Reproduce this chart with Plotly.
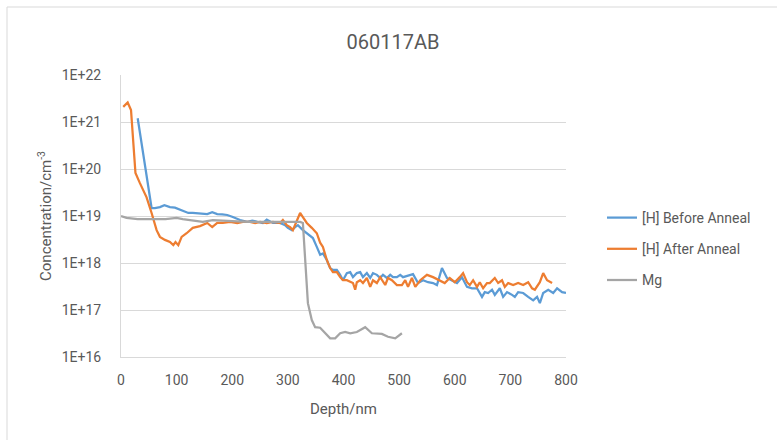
import plotly.graph_objects as go

# SIMS depth profiles of sample 060117AB
depth_before = [30, 55, 61, 70, 78, 88, 97, 109, 121, 129,
                142, 155, 164, 173, 182, 191, 201, 214, 227, 236,
                245, 255, 262, 273, 286, 295, 300, 307, 313, 318,
                327, 334, 345, 352, 358, 363, 370, 376, 381, 388,
                394, 399, 406, 412, 417, 424, 430, 435, 442, 448,
                453, 460, 466, 471, 478, 484, 489, 496, 502, 507,
                514, 520, 525, 534, 543, 552, 561, 568, 577, 586,
                595, 604, 613, 622, 631, 640, 649, 654, 660, 667,
                672, 681, 687, 694, 703, 708, 714, 723, 732, 741,
                748, 753, 759, 768, 777, 784, 793, 800]
h_before = [1.2e21, 1.48e19, 1.48e19, 1.55e19, 1.7e19, 1.55e19, 1.5e19, 1.34e19, 1.16e19, 1.16e19,
            1.12e19, 1.1e19, 1.2e19, 1.1e19, 1.08e19, 1.05e19, 9.5e18, 8.2e18, 7.5e18, 8.0e18,
            7.5e18, 7.1e18, 8.4e18, 7.1e18, 7.1e18, 6.4e18, 5.6e18, 5.0e18, 5.8e18, 6.4e18,
            5.0e18, 4.3e18, 3.4e18, 2.2e18, 1.5e18, 1.6e18, 1.16e18, 7.8e17, 7.1e17, 7.1e17,
            5.6e17, 4.3e17, 6.1e17, 6.4e17, 5.0e17, 6.1e17, 6.4e17, 5.0e17, 6.1e17, 4.8e17,
            6.1e17, 5.6e17, 4.8e17, 5.6e17, 4.8e17, 5.6e17, 5.0e17, 5.0e17, 5.6e17, 5.0e17,
            5.3e17, 5.6e17, 5.8e17, 3.75e17, 4.3e17, 3.9e17, 3.75e17, 3.4e17, 7.8e17, 4.8e17,
            4.3e17, 3.75e17, 5.0e17, 3.1e17, 2.9e17, 2.9e17, 1.9e17, 2.4e17, 2.3e17, 2.7e17,
            2.1e17, 2.9e17, 1.9e17, 2.4e17, 2.1e17, 1.9e17, 2.4e17, 2.3e17, 1.9e17, 1.6e17,
            1.9e17, 1.4e17, 2.3e17, 2.7e17, 2.3e17, 2.9e17, 2.4e17, 2.3e17]

depth_after = [4, 12, 18, 22, 26, 34, 46, 55, 64, 70,
               79, 88, 94, 98, 103, 109, 118, 129, 142, 155,
               164, 173, 183, 196, 209, 219, 232, 241, 250, 262,
               273, 286, 291, 298, 304, 309, 316, 322, 327, 334,
               343, 352, 358, 363, 370, 376, 381, 388, 394, 399,
               406, 412, 417, 421, 424, 430, 435, 442, 448, 453,
               460, 466, 475, 480, 487, 496, 505, 511, 516, 523,
               529, 538, 544, 550, 561, 573, 582, 591, 600, 609,
               615, 622, 627, 633, 640, 645, 651, 658, 663, 672,
               678, 685, 690, 696, 705, 714, 723, 732, 739, 744,
               753, 759, 766, 775]
h_after = [2.1e21, 2.6e21, 1.8e21, 4.1e20, 8.2e19, 5.0e19, 2.5e19, 1.16e19, 5.0e18, 3.6e18,
           3.1e18, 2.8e18, 2.4e18, 2.8e18, 2.4e18, 3.6e18, 4.3e18, 5.6e18, 6.1e18, 7.1e18,
           5.8e18, 7.1e18, 7.1e18, 7.5e18, 7.1e18, 7.5e18, 7.5e18, 7.1e18, 7.5e18, 7.1e18,
           7.5e18, 7.1e18, 8.2e18, 6.4e18, 5.8e18, 5.0e18, 8.2e18, 1.16e19, 9.5e18, 7.1e18,
           5.6e18, 4.3e18, 2.7e18, 2.2e18, 1.16e18, 7.8e17, 6.4e17, 6.4e17, 5.0e17, 4.3e17,
           4.3e17, 3.9e17, 3.75e17, 2.7e17, 3.9e17, 4.3e17, 3.75e17, 4.8e17, 3.1e17, 4.3e17,
           3.75e17, 5.0e17, 3.4e17, 4.8e17, 4.3e17, 3.4e17, 3.4e17, 4.3e17, 3.1e17, 4.8e17,
           3.1e17, 4.3e17, 5.0e17, 5.6e17, 5.0e17, 4.3e17, 3.75e17, 4.8e17, 3.9e17, 5.0e17,
           6.1e17, 3.9e17, 3.4e17, 4.3e17, 3.1e17, 3.9e17, 2.9e17, 3.75e17, 3.75e17, 4.8e17,
           3.75e17, 4.3e17, 3.1e17, 3.75e17, 3.4e17, 3.75e17, 3.4e17, 3.9e17, 2.9e17, 2.7e17,
           3.9e17, 6.1e17, 4.3e17, 3.75e17]

depth_mg = [0, 10, 30, 50, 80, 100, 111, 147, 165, 227,
            309, 322, 327, 331, 336, 343, 349, 358, 367, 376,
            385, 394, 403, 412, 424, 439, 451, 469, 480, 493, 505]
mg = [1.0e19, 9.1e18, 8.6e18, 8.6e18, 8.6e18, 9.1e18, 8.6e18, 7.5e18, 8.2e18, 7.5e18,
      7.5e18, 7.5e18, 7.1e18, 1.34e18, 1.4e17, 6.1e16, 4.3e16, 4.2e16, 3.2e16, 2.5e16,
      2.5e16, 3.2e16, 3.4e16, 3.2e16, 3.4e16, 4.3e16, 3.2e16, 3.1e16, 2.7e16, 2.5e16, 3.2e16]

y_tickvals = [1e16, 1e17, 1e18, 1e19, 1e20, 1e21, 1e22]
y_ticktext = ["1E+16", "1E+17", "1E+18", "1E+19", "1E+20", "1E+21", "1E+22"]
x_tickvals = [0, 100, 200, 300, 400, 500, 600, 700, 800]

FONT = "Roboto, sans-serif"
TXT = "#595959"
GRID = "#d9d9d9"

fig = go.Figure()
series = [
    ("[H] Before Anneal", depth_before, h_before, "#5B9BD5"),
    ("[H] After Anneal", depth_after, h_after, "#ED7D31"),
    ("Mg", depth_mg, mg, "#A5A5A5"),
]
for i, (name, x, y, c) in enumerate(series):
    fig.add_trace(go.Scatter(x=x, y=y, name=name, mode="lines",
                             line=dict(color=c, width=2.25),
                             legendgroup=f"g{i}"))

fig.update_layout(
    width=777, height=440,
    margin=dict(l=121, r=211, t=75, b=83),
    paper_bgcolor="white", plot_bgcolor="white",
    font=dict(family=FONT, color=TXT, size=14),
    title=dict(text="060117AB", x=393 / 777, xanchor="center",
               y=1 - 42 / 440, yanchor="middle",
               font=dict(size=20, color=TXT, family=FONT)),
    xaxis=dict(range=[0, 800], tickvals=x_tickvals, showgrid=False,
               showline=True, linecolor=GRID, linewidth=1, ticks="",
               zeroline=False, tickfont=dict(size=14), ticklabelstandoff=10,
               title=dict(text="Depth/nm", font=dict(size=15), standoff=16)),
    yaxis=dict(type="log", range=[16, 22], tickvals=y_tickvals, ticktext=y_ticktext,
               showgrid=True, gridcolor=GRID, gridwidth=1,
               showline=True, linecolor=GRID, linewidth=1, ticks="",
               zeroline=False, tickfont=dict(size=14), ticklabelstandoff=16,
               title=dict(text="Concentration/cm<sup>-3</sup>", font=dict(size=15), standoff=6)),
    legend=dict(xref="container", yref="container", x=602 / 777, y=1 - 202 / 440,
                xanchor="left", yanchor="top", traceorder="grouped",
                tracegroupgap=10, font=dict(size=14, color=TXT),
                bgcolor="rgba(0,0,0,0)", itemwidth=30),
    showlegend=True,
)

# chart frame edges along the top and left
fig.add_shape(type="line", xref="paper", yref="paper",
              x0=-114 / 445, x1=-114 / 445, y0=-83 / 282, y1=350 / 282,
              line=dict(color=GRID, width=1))
fig.add_shape(type="line", xref="paper", yref="paper",
              x0=-114 / 445, x1=656 / 445, y0=350 / 282, y1=350 / 282,
              line=dict(color=GRID, width=1))

fig.write_html("out.html")
